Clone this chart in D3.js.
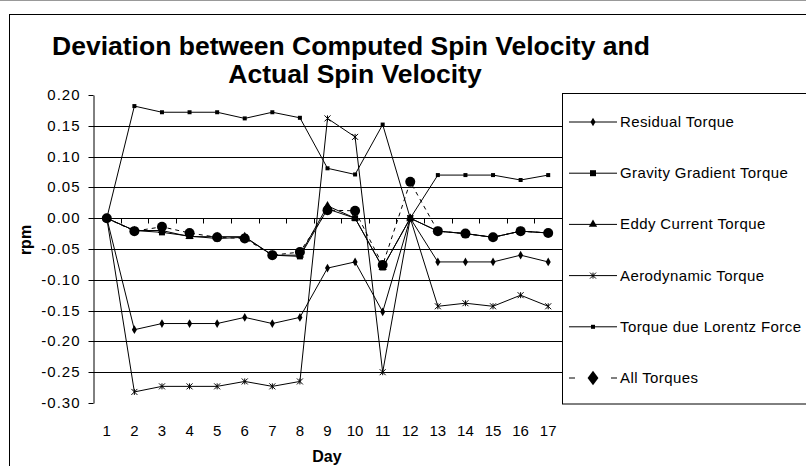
<!DOCTYPE html>
<html>
<head>
<meta charset="utf-8">
<script src="https://cdn.jsdelivr.net/npm/d3@7"></script>
<style>
  body { margin: 0; background: #fff; }
  text { font-family: "Liberation Sans", Arial, sans-serif; fill: #000; }
</style>
</head>
<body>
<svg width="806" height="466"></svg>
<script>
/* SECTION: data */

var days = ["1","2","3","4","5","6","7","8","9","10","11","12","13","14","15","16","17"];
var yTicks = [0.20, 0.15, 0.10, 0.05, 0.00, -0.05, -0.10, -0.15, -0.20, -0.25, -0.30];

var residual = [0, -0.181, -0.171, -0.171, -0.171, -0.161, -0.171, -0.161, -0.081, -0.071, -0.152, 0, -0.071, -0.071, -0.071, -0.06, -0.071];
var gravity  = [0, -0.02, -0.023, -0.029, -0.033, -0.031, -0.06, -0.062, 0.015, 0.0, -0.08, 0, -0.021, -0.025, -0.031, -0.021, -0.024];
var eddy     = [0, -0.02, -0.02, -0.03, -0.03, -0.03, -0.06, -0.06, 0.02, 0.0, -0.08, 0, -0.021, -0.025, -0.031, -0.021, -0.024];
var aero     = [0, -0.282, -0.273, -0.273, -0.273, -0.265, -0.273, -0.265, 0.162, 0.132, -0.25, 0, -0.143, -0.138, -0.143, -0.125, -0.143];
var lorentz  = [0, 0.182, 0.172, 0.172, 0.172, 0.162, 0.172, 0.163, 0.081, 0.071, 0.152, 0, 0.07, 0.07, 0.07, 0.062, 0.07];
var allTorques = [0, -0.021, -0.014, -0.024, -0.031, -0.033, -0.06, -0.055, 0.013, 0.012, -0.076, 0.059, -0.021, -0.025, -0.031, -0.021, -0.024];

var names = ["Residual Torque", "Gravity Gradient Torque", "Eddy Current Torque", "Aerodynamic Torque", "Torque due Lorentz Force", "All Torques"];

var series = [
  {name: names[0], values: residual, marker: "diamond", dash: null},
  {name: names[1], values: gravity, marker: "square", dash: null},
  {name: names[2], values: eddy, marker: "triangle", dash: null},
  {name: names[3], values: aero, marker: "star", dash: null},
  {name: names[4], values: lorentz, marker: "dot", dash: null},
  {name: names[5], values: allTorques, marker: "big", dash: "4,4"}
];

/* SECTION: scales */

var svg = d3.select("svg");
// (plotTop, not top: window.top is read-only)
var plotLeft = 93, plotRight = 562, plotTop = 95, plotBottom = 403;

var x = d3.scaleBand().domain(days).range([plotLeft, plotRight]);
var y = d3.scaleLinear().domain([-0.30, 0.20]).range([plotBottom, plotTop]);
function cx(i) { return x(days[i]) + x.bandwidth() / 2; }

// outer chart frame
svg.append("line").attr("x1", 0).attr("x2", 806).attr("y1", 0.5).attr("y2", 0.5).attr("stroke", "#999");
svg.append("rect").attr("x", 9.5).attr("y", 14.5).attr("width", 820).attr("height", 480)
    .attr("fill", "#fff").attr("stroke", "#000");

// title
svg.append("text").attr("x", 351).attr("y", 55).attr("text-anchor", "middle")
    .style("font-size", "26.5px").style("font-weight", "bold")
    .text("Deviation between Computed Spin Velocity and");
svg.append("text").attr("x", 355).attr("y", 83).attr("text-anchor", "middle")
    .style("font-size", "26.5px").style("font-weight", "bold")
    .text("Actual Spin Velocity");

// gridlines
svg.append("g").selectAll("line").data(yTicks.filter(function(d) { return d < 0.19 && d > -0.29; }))
  .enter().append("line")
    .attr("x1", plotLeft).attr("x2", plotRight)
    .attr("y1", function(d) { return Math.round(y(d)) + 0.5; })
    .attr("y2", function(d) { return Math.round(y(d)) + 0.5; })
    .attr("stroke", "#000").attr("stroke-width", 1);

// y axis (plain hyphen for negatives, like the original)
var yAxis = d3.axisLeft(y).tickValues(yTicks).tickFormat(function(d) { return d.toFixed(2); }).tickSize(5).tickSizeOuter(0);
var gy = svg.append("g").attr("transform", "translate(" + (plotLeft + 0.5) + ",0)").call(yAxis);
gy.selectAll("text").style("font-size", "15px").style("letter-spacing", "1px").attr("x", -13);
gy.selectAll(".tick").attr("transform", function(d) { return "translate(0," + (Math.round(y(d)) + 0.5) + ")"; });
gy.select(".domain").attr("stroke", "#000");

svg.append("text").attr("transform", "translate(31,240) rotate(-90)").attr("text-anchor", "middle")
    .style("font-size", "16px").style("font-weight", "bold").text("rpm");

// x axis on the zero line, ticks between categories
var zeroY = Math.round(y(0)) + 0.5;
svg.append("line").attr("x1", plotLeft).attr("x2", plotRight).attr("y1", zeroY).attr("y2", zeroY).attr("stroke", "#000");
svg.append("g").selectAll("line").data(days.slice(1)).enter().append("line")
    .attr("x1", function(d) { return Math.round(x(d)) + 0.5; })
    .attr("x2", function(d) { return Math.round(x(d)) + 0.5; })
    .attr("y1", zeroY).attr("y2", zeroY + 5).attr("stroke", "#000");
svg.append("g").selectAll("text").data(days).enter().append("text")
    .attr("x", function(d, i) { return cx(i); }).attr("y", 436)
    .attr("text-anchor", "middle").style("font-size", "15px").text(function(d) { return d; });
svg.append("text").attr("x", 327).attr("y", 462).attr("text-anchor", "middle")
    .style("font-size", "16px").style("font-weight", "bold").text("Day");

/* SECTION: lines and markers */

var line = d3.line().x(function(d, i) { return cx(i); }).y(function(d) { return y(d); });

function drawMarker(g, type, px, py) {
  if (type == "diamond") {
    g.append("path").attr("d", d3.symbol().type(d3.symbolDiamond).size(22)()).attr("transform", "translate(" + px + "," + py + ")");
  } else if (type == "square") {
    g.append("rect").attr("x", px - 3).attr("y", py - 3).attr("width", 6).attr("height", 6);
  } else if (type == "triangle") {
    g.append("path").attr("d", d3.symbol().type(d3.symbolTriangle).size(30)()).attr("transform", "translate(" + px + "," + py + ")");
  } else if (type == "star") {
    g.append("path").attr("d", "M-3,-3L3,3M-3,3L3,-3M0,-3L0,3").attr("transform", "translate(" + px + "," + py + ")")
      .attr("fill", "none").attr("stroke", "#000");
  } else if (type == "dot") {
    g.append("rect").attr("x", px - 2).attr("y", py - 2).attr("width", 4).attr("height", 4);
  } else if (type == "big") {
    g.append("circle").attr("cx", px).attr("cy", py).attr("r", 5);
  }
}

series.forEach(function(s) {
  svg.append("path").datum(s.values).attr("d", line)
      .attr("fill", "none").attr("stroke", "#000").attr("stroke-width", 1)
      .attr("stroke-dasharray", s.dash);
  var g = svg.append("g").attr("fill", "#000");
  s.values.forEach(function(v, i) { drawMarker(g, s.marker, cx(i), y(v)); });
});

/* SECTION: legend */

var lg = svg.append("g");
lg.append("rect").attr("x", 562.5).attr("y", 93.5).attr("width", 300).attr("height", 310.5)
    .attr("fill", "#fff").attr("stroke", "#000");

series.forEach(function(s, i) {
  var ly = 122 + i * 51.2;
  var row = lg.append("g").attr("fill", "#000");
  if (s.dash) {
    row.append("line").attr("x1", 569).attr("x2", 575).attr("y1", ly).attr("y2", ly).attr("stroke", "#000");
    row.append("line").attr("x1", 611).attr("x2", 617).attr("y1", ly).attr("y2", ly).attr("stroke", "#000");
    row.append("path").attr("d", d3.symbol().type(d3.symbolDiamond).size(60)()).attr("transform", "translate(593," + ly + ") scale(1.3,1)");
  } else {
    row.append("line").attr("x1", 569).attr("x2", 617).attr("y1", ly).attr("y2", ly).attr("stroke", "#000");
    drawMarker(row, s.marker, 593, ly);
  }
  row.append("text").attr("x", 620).attr("y", ly + 5).style("font-size", "15px").style("letter-spacing", "0.4px").text(s.name);
});
</script>
</body>
</html>
